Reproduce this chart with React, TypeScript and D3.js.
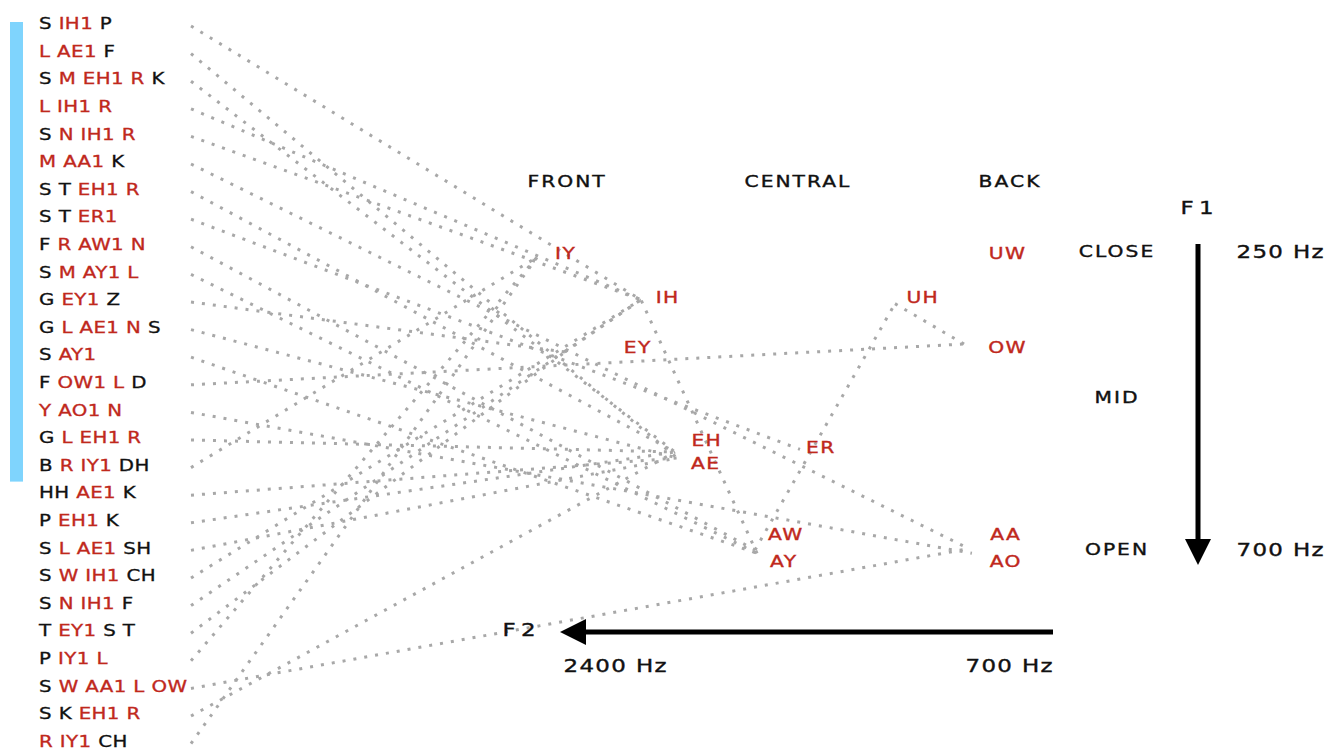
import * as d3 from 'd3'

// word rows: black prefix, red core, black suffix
const prefixes = ['S', '', 'S', '', 'S', '', 'S T', 'S T', 'F', 'S', 'G', 'G', 'S', 'F', '', 'G', 'B', 'HH', 'P', 'S', 'S', 'S', 'T', 'P', 'S', 'S K', '']
const cores = ['IH1', 'L AE1', 'M EH1 R', 'L IH1 R', 'N IH1 R', 'M AA1', 'EH1 R', 'ER1', 'R AW1 N', 'M AY1 L', 'EY1', 'L AE1 N', 'AY1', 'OW1 L', 'Y AO1 N', 'L EH1 R', 'R IY1', 'AE1', 'EH1', 'L AE1', 'W IH1', 'N IH1', 'EY1', 'IY1 L', 'W AA1 L OW', 'EH1 R', 'R IY1']
const suffixes = ['P', 'F', 'K', '', '', 'K', '', '', '', '', 'Z', 'S', '', 'D', '', '', 'DH', 'K', 'K', 'SH', 'CH', 'F', 'S T', '', '', '', 'CH']
const highlightedRows = 17

// vowel chart placement (label), Hz
const vowels = ['IY', 'IH', 'EY', 'EH', 'AE', 'ER', 'AW', 'AY', 'UH', 'UW', 'OW', 'AA', 'AO']
const chartF2 = [2616, 2176, 2305, 2007, 2012, 1515, 1666, 1675, 1075, 709, 709, 717, 717]
const chartF1 = [252, 318, 394, 534, 570, 545, 676, 718, 318, 252, 394, 676, 718]
// measured formants where the word lines end, Hz (UW has no word)
const measuredF2 = [2737, 2288, 2616, 2141, 2132, 1602, 1796, 1787, 1192, NaN, 894, 873, 860]
const measuredF1 = [258, 322, 401, 552, 561, 548, 700, 705, 328, NaN, 389, 698, 705]
// diphthong glides
const glideFrom = ['AY', 'AW', 'OW', 'EY']
const glideTo = ['IH', 'UH', 'UH', 'IH']

const backness = ['FRONT', 'CENTRAL', 'BACK']
const backnessF2 = [2611, 1615, 700]
const height = ['CLOSE', 'MID', 'OPEN']
const heightF1 = [250, 470, 700]
const f1Ticks = [250, 700]
const f2Ticks = [2400, 700]

const RED = '#c0281c'
const INK = '#111'
const DOT = '#a8a8a8'
const FONT = '"DejaVu Sans", sans-serif'

const W = 1327
const H = 749

const x = d3.scaleLinear().domain([2400, 700]).range([615, 1009])
const y = d3.scaleLinear().domain([250, 700]).range([252, 550])
const rowY = d3
  .scalePoint<number>()
  .domain(d3.range(cores.length))
  .range([24, 741.6])

const stressed = (core: string) => {
  const p = core.split(' ').find((s) => /1$/.test(s))!
  return p.replace('1', '')
}

const Label = ({
  tx,
  ty,
  text,
  fill = INK,
  size = 15,
  ls = 1.5,
  anchor = 'middle',
}: {
  tx: number
  ty: number
  text: string
  fill?: string
  size?: number
  ls?: number
  anchor?: string
}) => (
  <text
    transform={`translate(${tx + (anchor === 'middle' ? (ls * 1.35) / 2 : 0)},${ty}) scale(1.35,1)`}
    textAnchor={anchor}
    dominantBaseline="central"
    fontFamily={FONT}
    fontSize={size}
    letterSpacing={ls}
    fill={fill}
    stroke={fill}
    strokeWidth={0.35}
  >
    {text}
  </text>
)

export default function App() {
  const vIdx = (v: string) => vowels.indexOf(v)
  const mPos = (v: string): [number, number] => {
    const i = vIdx(v)
    return [x(measuredF2[i]), y(measuredF1[i])]
  }
  const startX = 191

  const wordLines = cores.map((c, i) => {
    const [ex, ey] = mPos(stressed(c))
    return d3.line()([
      [startX, rowY(i)! + 2],
      [ex, ey],
    ])!
  })
  const glideLines = glideFrom.map((f, i) => d3.line()([mPos(f), mPos(glideTo[i])])!)

  const vArrowX = 1198
  const vTop = y(250) - 8
  const vTip = y(700) + 15
  const hArrowY = 632
  const hRight = x(700) + 44
  const hTip = x(2400) - 55

  return (
    <svg width={W} height={H} style={{ position: 'absolute', left: 0, top: 0, background: '#fff' }}>
      <rect x={10} y={22} width={13} height={rowY(highlightedRows - 1)! + 12 - 18} fill="#7fd4fd" />

      <g fill="none" stroke={DOT} strokeWidth={3} strokeDasharray="3 8">
        {wordLines.map((d, i) => (
          <path key={i} d={d} />
        ))}
        {glideLines.map((d, i) => (
          <path key={'g' + i} d={d} />
        ))}
      </g>

      {cores.map((c, i) => (
        <text
          key={i}
          transform={`translate(39,${rowY(i)}) scale(1.32,1)`}
          dominantBaseline="central"
          fontFamily={FONT}
          fontSize={15}
          letterSpacing={0.3}
          fill={INK}
          stroke={INK}
          strokeWidth={0.3}
          style={{ whiteSpace: 'pre' }}
        >
          {prefixes[i] && <tspan>{prefixes[i] + ' '}</tspan>}
          <tspan fill={RED} stroke={RED}>
            {c}
          </tspan>
          {suffixes[i] && <tspan>{' ' + suffixes[i]}</tspan>}
        </text>
      ))}

      {vowels.map((v, i) => (
        <Label key={v} tx={x(chartF2[i])} ty={y(chartF1[i])} text={v} fill={RED} ls={1} />
      ))}

      {backness.map((b, i) => (
        <Label key={b} tx={x(backnessF2[i])} ty={182} text={b} />
      ))}
      {height.map((h, i) => (
        <Label key={h} tx={1116} ty={y(heightF1[i])} text={h} />
      ))}
      {f1Ticks.map((t) => (
        <Label key={'f1' + t} tx={1280} ty={y(t)} text={`${t} Hz`} size={17} ls={1} />
      ))}
      {f2Ticks.map((t) => (
        <Label key={'f2' + t} tx={x(t)} ty={666} text={`${t} Hz`} size={17} ls={1} />
      ))}

      <Label tx={1197} ty={208} text="F1" size={17} ls={4} />
      <Label tx={519} ty={630} text="F2" size={17} ls={4} />

      <line x1={vArrowX} x2={vArrowX} y1={vTop} y2={vTip - 24} stroke="#000" strokeWidth={5} />
      <path d={`M${vArrowX - 13},${vTip - 26}L${vArrowX + 13},${vTip - 26}L${vArrowX},${vTip}Z`} fill="#000" />
      <line x1={hRight} x2={hTip + 24} y1={hArrowY} y2={hArrowY} stroke="#000" strokeWidth={5} />
      <path d={`M${hTip + 26},${hArrowY - 13}L${hTip + 26},${hArrowY + 13}L${hTip},${hArrowY}Z`} fill="#000" />
    </svg>
  )
}
